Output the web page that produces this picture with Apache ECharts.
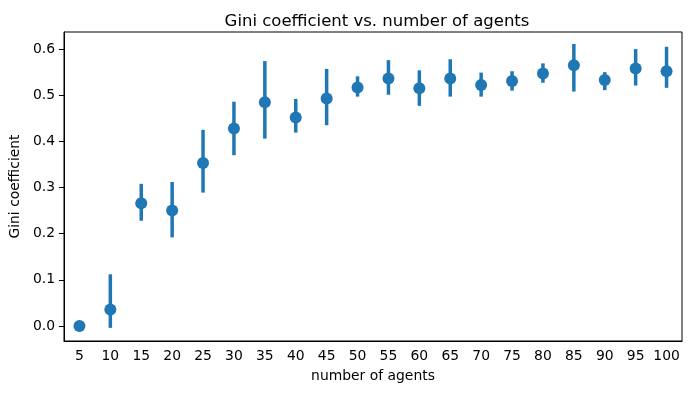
<!DOCTYPE html>
<html>
<head>
<meta charset="utf-8">
<script src="https://cdn.jsdelivr.net/npm/echarts@6/dist/echarts.min.js"></script>
<style>
html,body{margin:0;padding:0;background:#fff;}
#chart{width:691px;height:393px;}
</style>
</head>
<body>
<div id="chart"></div>
<script>
const categories = ['5','10','15','20','25','30','35','40','45','50','55','60','65','70','75','80','85','90','95','100'];
const means = [0.000,0.036,0.266,0.250,0.353,0.428,0.485,0.452,0.493,0.517,0.536,0.515,0.536,0.522,0.531,0.547,0.565,0.533,0.558,0.552];
const lows  = [0.000,-0.004,0.228,0.192,0.289,0.370,0.406,0.419,0.435,0.497,0.501,0.477,0.497,0.497,0.510,0.527,0.508,0.511,0.521,0.516];
const highs = [0.000,0.112,0.308,0.312,0.425,0.486,0.574,0.492,0.557,0.541,0.576,0.554,0.578,0.549,0.552,0.569,0.611,0.550,0.600,0.605];
const yTicks = [0, 0.1, 0.2, 0.3, 0.4, 0.5, 0.6];

const color = '#1f77b4';
const font = 'DejaVu Sans';

const errData = categories.map((c, i) => [i, lows[i], highs[i]]);

const chart = echarts.init(document.getElementById('chart'), null, {renderer: 'canvas'});
chart.setOption({
  animation: false,
  backgroundColor: '#fff',
  title: {
    text: 'Gini coefficient vs. number of agents',
    left: 372, top: 8, textAlign: 'center',
    textStyle: {fontFamily: font, fontSize: 16.5, fontWeight: 'normal', color: '#000'}
  },
  grid: {left: 62, right: 9, top: 32, bottom: 52, show: true, borderColor: '#000', borderWidth: 1, backgroundColor: 'transparent'},
  xAxis: {
    type: 'category',
    data: categories,
    boundaryGap: true,
    name: 'number of agents',
    nameLocation: 'middle',
    nameGap: 28,
    nameTextStyle: {fontFamily: font, fontSize: 13.9, color: '#000'},
    axisLine: {onZero: false, lineStyle: {color: '#000', width: 1}},
    axisTick: {alignWithLabel: true, length: 5, lineStyle: {color: '#000'}},
    axisLabel: {fontFamily: font, fontSize: 13.9, color: '#000', margin: 8, interval: 0},
    splitLine: {show: false}
  },
  yAxis: {
    type: 'value',
    min: -0.0325, max: 0.637,
    name: 'Gini coefficient',
    nameLocation: 'middle',
    nameGap: 40,
    nameTextStyle: {fontFamily: font, fontSize: 13.9, color: '#000'},
    axisLine: {show: true, onZero: false, lineStyle: {color: '#000', width: 1}},
    axisTick: {show: true, length: 5, customValues: yTicks, lineStyle: {color: '#000'}},
    axisLabel: {fontFamily: font, fontSize: 13.9, color: '#000', margin: 9, customValues: yTicks,
      formatter: v => v.toFixed(1)},
    splitLine: {show: false}
  },
  series: [
    {
      type: 'custom',
      data: errData,
      z: 2,
      renderItem: function (params, api) {
        const x = api.value(0);
        const p1 = api.coord([x, api.value(1)]);
        const p2 = api.coord([x, api.value(2)]);
        return {
          type: 'line',
          shape: {x1: p1[0], y1: p1[1], x2: p2[0], y2: p2[1]},
          style: {stroke: color, lineWidth: 3.5, lineCap: 'butt'}
        };
      },
      encode: {x: 0, y: [1, 2]}
    },
    {
      type: 'scatter',
      data: means.map((m, i) => [i, m]),
      symbol: 'circle',
      symbolSize: 12,
      itemStyle: {color: color, opacity: 1},
      z: 3
    }
  ]
});
</script>
</body>
</html>
